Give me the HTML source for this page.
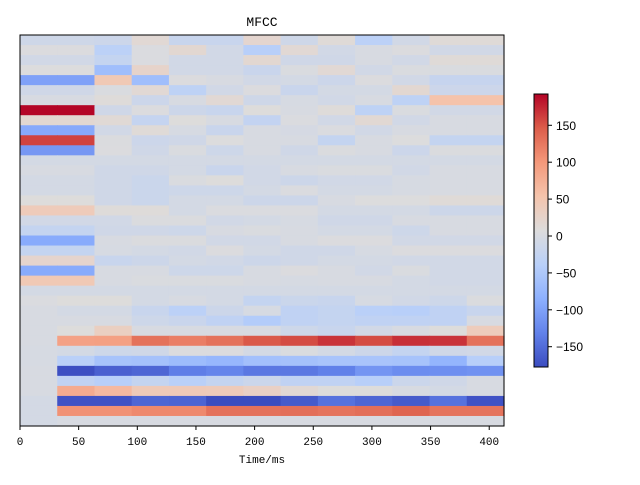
<!DOCTYPE html>
<html><head><meta charset="utf-8"><style>
body{margin:0;background:#fff;width:640px;height:480px;overflow:hidden}
svg text{font-family:"Liberation Mono",monospace}
svg text.sans{font-family:"Liberation Sans",sans-serif}
</style></head><body>
<svg id="chart" width="640" height="480" xmlns="http://www.w3.org/2000/svg">
<rect width="640" height="480" fill="#fff"/>
<g id="cells"></g>
<rect x="20" y="35" width="484" height="391" fill="none" stroke="#000" stroke-width="1"/>
<g id="xaxis"></g>
<text x="262" y="26" text-anchor="middle" font-size="13">MFCC</text>
<text x="262" y="463" text-anchor="middle" font-size="11">Time/ms</text>
<defs><linearGradient id="cg" x1="0" y1="1" x2="0" y2="0">
<stop offset="0" stop-color="#3b4cc0"/><stop offset="0.125" stop-color="#6282ea"/><stop offset="0.25" stop-color="#8db0fe"/><stop offset="0.375" stop-color="#b9d0f9"/><stop offset="0.5" stop-color="#dddcdc"/><stop offset="0.625" stop-color="#f5c4ac"/><stop offset="0.75" stop-color="#f4987a"/><stop offset="0.875" stop-color="#dc5d4a"/><stop offset="1" stop-color="#b40426"/>
</linearGradient></defs>
<rect x="534" y="94" width="14" height="273" fill="url(#cg)" stroke="#000" stroke-width="1"/>
<g id="cbar"></g>
</svg>
<script>
const timesMs=[0,50,100,150,200,250,300,350,400];
const cbTicks=[-150,-100,-50,0,50,100,150];
const vmin=-177.5, vmax=192.4, tmax=412.6;
const values=[
[-12,-12,-15,15,-20,-20,20,-12,12,-35,-8,12,12],
[5,5,-35,3,18,-8,-40,15,-8,0,5,-8,-8],
[-8,-8,-25,3,-8,-8,18,-10,-10,0,-8,12,12],
[6,6,-65,25,-8,-8,-18,2,15,-8,2,2,2],
[-100,-100,45,-65,5,0,-8,-5,-15,5,-8,-22,-22],
[-10,-10,2,15,-32,-8,5,-18,-5,-5,18,-15,-15],
[0,0,10,-15,0,15,-12,-2,-8,0,-32,55,55],
[192,192,-10,5,-14,-20,8,0,10,-32,2,-8,-8],
[18,18,14,-24,8,0,-26,3,-8,16,-8,0,0],
[-92,-92,-8,12,-2,-18,0,-3,3,-8,0,0,0],
[160,160,4,-15,-10,6,0,0,-25,0,6,-25,-25],
[-110,-110,5,-10,2,-13,0,-10,4,0,-15,4,4],
[-5,-5,-5,-5,-5,-5,-5,-5,-5,-5,-5,-5,-5],
[0,0,-10,-10,-5,-18,-8,0,2,2,-8,0,0],
[-5,-5,-10,-17,2,8,-8,-14,-8,-8,-2,0,0],
[-5,-5,-10,-17,-13,-13,-5,3,-5,-5,-2,0,0],
[8,8,-10,-17,-5,-5,-14,-14,0,6,6,12,12],
[40,40,10,10,-5,3,3,3,-5,-5,-5,-14,-14],
[-8,-8,-8,4,4,-8,-5,-2,-10,-10,0,0,0],
[-25,-25,-10,-10,-13,0,2,0,-5,-5,-13,0,0],
[-90,-90,0,4,4,-8,-8,0,5,5,-8,-8,-8],
[-25,-25,-2,-5,-8,5,-5,-10,-10,-2,5,5,5],
[22,22,-20,-14,-5,-8,-14,-10,-5,-5,-8,-8,-8],
[-90,-90,0,0,-13,-13,0,5,0,-8,2,-8,-8],
[45,45,0,2,2,2,0,-2,0,0,-5,-8,-8],
[-5,-5,-5,-5,-5,-5,-5,-5,-5,-5,-5,-5,-5],
[3,8,8,-5,0,-5,-25,-17,-20,-2,-8,-13,4],
[0,-5,-5,-20,-35,-14,-2,-30,-25,-37,-40,-30,-20],
[0,0,0,-13,-18,-30,-45,-30,-25,-30,-30,-30,0],
[0,8,33,0,0,0,0,-13,-20,-8,0,8,38],
[0,90,92,130,120,130,148,155,168,155,170,168,130],
[-2,-5,-13,-10,5,5,-5,2,-5,-14,-25,-10,-8],
[-2,-37,-58,-60,-68,-75,-62,-60,-56,-56,-58,-78,-40],
[0,-175,-160,-155,-135,-128,-140,-140,-132,-112,-120,-118,-115],
[0,-30,-40,-25,-37,-25,-16,-30,-30,-40,-16,-10,0],
[0,80,65,42,42,40,30,15,8,8,0,-5,0],
[-5,-172,-172,-155,-157,-177,-177,-165,-145,-155,-165,-145,-172],
[-5,105,105,112,112,130,130,132,128,132,140,128,128],
[-5,0,0,0,0,0,0,0,0,0,0,0,0]
];
const stops=[[59,76,192],[98,130,234],[141,176,254],[185,208,249],[221,220,220],[245,196,172],[244,152,122],[220,93,74],[180,4,38]];
function cmap(v){let t=(v-vmin)/(vmax-vmin);t=Math.max(0,Math.min(1,t))*8;const i=Math.min(7,Math.floor(t)),f=t-i;
const c=stops[i].map((a,k)=>Math.round(a+(stops[i+1][k]-a)*f));return `rgb(${c})`;}
const X0=20,X1=504,Y0=35,Y1=426;
const xs=t=>X0+(X1-X0)*t/tmax;
const NS="http://www.w3.org/2000/svg";
const g=document.getElementById('cells');
const nr=values.length,nc=values[0].length,rh=(Y1-Y0)/nr,cw=(X1-X0)/nc;
values.forEach((row,r)=>row.forEach((v,c)=>{
 const e=document.createElementNS(NS,'rect');
 e.setAttribute('x',X0+c*cw);e.setAttribute('y',Y0+r*rh);
 e.setAttribute('width',cw+0.6);e.setAttribute('height',rh+0.6);
 e.setAttribute('fill',cmap(v));
 
 
 g.appendChild(e);
}));
const xa=document.getElementById('xaxis');
timesMs.forEach(t=>{
 const x=xs(t);
 const l=document.createElementNS(NS,'line');
 l.setAttribute('x1',x);l.setAttribute('x2',x);l.setAttribute('y1',426);l.setAttribute('y2',430);l.setAttribute('stroke','#000');
 
 
 xa.appendChild(l);
 const tx=document.createElementNS(NS,'text');
 tx.setAttribute('x',x);tx.setAttribute('y',445);tx.setAttribute('text-anchor','middle');tx.setAttribute('font-size','11');
 tx.textContent=t;
 
 
 xa.appendChild(tx);
});
const cb=document.getElementById('cbar');
const cy=v=>367-273*(v-vmin)/(vmax-vmin);
cbTicks.forEach(v=>{
 const y=cy(v);
 const l=document.createElementNS(NS,'line');
 l.setAttribute('x1',548);l.setAttribute('x2',552);l.setAttribute('y1',y);l.setAttribute('y2',y);l.setAttribute('stroke','#000');
 
 
 cb.appendChild(l);
 const tx=document.createElementNS(NS,'text');
 tx.setAttribute('x',556);tx.setAttribute('y',y+4.5);tx.setAttribute('font-size','12');
 tx.setAttribute('class','sans');
 tx.textContent=v<0?'\u2212'+(-v):String(v);
 
 
 cb.appendChild(tx);
});
</script>
</body></html>
